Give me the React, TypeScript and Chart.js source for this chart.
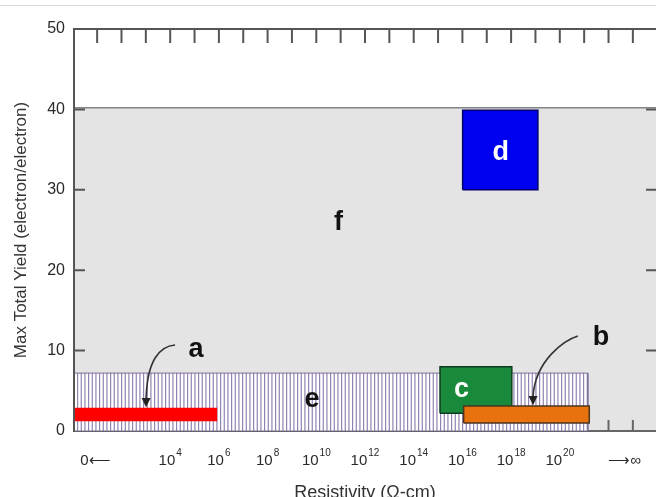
import React, { useEffect, useRef } from "react";
import { Chart, registerables } from "chart.js";

Chart.register(...registerables);

// ---- axis ranges (x is log10 of resistivity in Ω-cm) ----
const X_MIN = 0.05;
const X_MAX = 23.95;
const Y_MIN = 0;
const Y_MAX = 50;
const Y_STEP = 10;

// decade tick marks (top & bottom axes)
const decadeTicks = [1, 2, 3, 4, 5, 6, 7, 8, 9, 10, 11, 12, 13, 14, 15, 16, 17, 18, 19, 20, 21, 22, 23];
// y tick marks drawn inward
const yInnerTicks = [10, 20, 30, 40];

// bottom tick labels
const xLabelValues = [0.93, 4, 6, 8, 10, 12, 14, 16, 18, 20, 22.66];
const xLabelBases = ["0\u27F5", "10", "10", "10", "10", "10", "10", "10", "10", "10", "\u27F6\u221E"];
const xLabelExponents = ["", "4", "6", "8", "10", "12", "14", "16", "18", "20", ""];

// regions (rectangles): x in decades, y in electron/electron
const regionNames = ["f", "e", "a", "c", "b", "d"];
const regionXStart = [0.05, 0.05, 0.05, 15.08, 16.05, 16.01];
const regionXEnd = [23.95, 21.15, 5.94, 18.03, 21.21, 19.1];
const regionYLow = [0, 0, 1.2, 2.2, 1.0, 30.0];
const regionYHigh = [40.2, 7.2, 2.9, 8.0, 3.1, 39.9];

// region letter label anchors (text baseline)
const letterX = [10.91, 9.82, 5.06, 15.96, 21.69, 17.57];
const letterY = [25.0, 2.99, 9.2, 4.23, 10.7, 33.7];

// curved arrows (cubic: start, c1, c2, end) and tips
const arrowAPath = [[4.2, 10.7], [3.58, 10.57], [3.05, 8.83], [3.01, 3.98]];
const arrowATip = [3.01, 2.95];
const arrowBPath = [[20.74, 11.82], [20.21, 11.32], [18.98, 8.83], [18.9, 4.23]];
const arrowBTip = [18.9, 3.2];

// ---- styles ----
const FONT = '"Liberation Sans", Arial, Helvetica, sans-serif';
const regionFill = ["#e4e4e4", "HATCH", "#ff0000", "#198a3b", "#e8720d", "#0000f0"];
const regionBorder = ["#858585", "#7d6f9c", "#ff0000", "#0e3c1e", "#4a3520", "#00006a"];
const regionBorderWidth = [1.5, 1, 0, 1.5, 1.5, 1.5];
const letterColor = ["#111", "#111", "#111", "#ffffff", "#111", "#ffffff"];

function makeHatch(ctx: CanvasRenderingContext2D): CanvasPattern | string {
  const c = document.createElement("canvas");
  c.width = 11;
  c.height = 4;
  const g = c.getContext("2d");
  if (!g) return "#d8d0e4";
  g.fillStyle = "#ffffff";
  g.fillRect(0, 0, 11, 4);
  g.fillStyle = "#9383b0";
  [0, 3.67, 7.33].forEach((x) => g.fillRect(x, 0, 1.2, 4));
  return ctx.createPattern(c, "repeat") || "#d8d0e4";
}

const decorPlugin = {
  id: "decor",
  afterDatasetDraw(chart: any, args: any) {
    if (args.index !== 1) return;
    const { ctx, chartArea } = chart;
    const xs = chart.scales.x;
    ctx.save();
    ctx.strokeStyle = "#666";
    ctx.lineWidth = 2;
    ctx.beginPath();
    ctx.moveTo(chartArea.left, chartArea.bottom);
    ctx.lineTo(chartArea.right, chartArea.bottom);
    ctx.stroke();
    decadeTicks.forEach((d) => {
      const px = xs.getPixelForValue(d);
      ctx.beginPath();
      ctx.moveTo(px, chartArea.bottom);
      ctx.lineTo(px, chartArea.bottom - 11);
      ctx.stroke();
    });
    ctx.restore();
  },
  afterDatasetsDraw(chart: any) {
    const { ctx, chartArea } = chart;
    const xs = chart.scales.x;
    const ys = chart.scales.y;
    const P = (p: number[]) => [xs.getPixelForValue(p[0]), ys.getPixelForValue(p[1])];
    ctx.save();
    // axes frame
    ctx.strokeStyle = "#555";
    ctx.lineWidth = 2;
    ctx.beginPath();
    ctx.moveTo(chartArea.left, chartArea.bottom + 1);
    ctx.lineTo(chartArea.left, chartArea.top);
    ctx.lineTo(chartArea.right, chartArea.top);
    ctx.stroke();
    decadeTicks.forEach((d) => {
      const px = xs.getPixelForValue(d);
      ctx.beginPath();
      ctx.moveTo(px, chartArea.top);
      ctx.lineTo(px, chartArea.top + 14);
      ctx.stroke();
    });
    yInnerTicks.forEach((v) => {
      const py = ys.getPixelForValue(v);
      ctx.beginPath();
      ctx.moveTo(chartArea.left, py);
      ctx.lineTo(chartArea.left + 11, py);
      ctx.moveTo(chartArea.right, py);
      ctx.lineTo(chartArea.right - 10, py);
      ctx.stroke();
    });
    // arrows
    const drawArrow = (path: number[][], tip: number[]) => {
      const pts = path.map(P);
      const t = P(tip);
      ctx.strokeStyle = "#333";
      ctx.fillStyle = "#222";
      ctx.lineWidth = 1.6;
      ctx.beginPath();
      ctx.moveTo(pts[0][0], pts[0][1]);
      ctx.bezierCurveTo(pts[1][0], pts[1][1], pts[2][0], pts[2][1], pts[3][0], pts[3][1]);
      ctx.stroke();
      ctx.beginPath();
      ctx.moveTo(t[0], t[1]);
      ctx.lineTo(pts[3][0] - 4.5, pts[3][1] - 1);
      ctx.lineTo(pts[3][0] + 4.5, pts[3][1] - 1);
      ctx.closePath();
      ctx.fill();
    };
    drawArrow(arrowAPath, arrowATip);
    drawArrow(arrowBPath, arrowBTip);
    // region letters
    ctx.font = `bold 27px ${FONT}`;
    ctx.textAlign = "center";
    ctx.textBaseline = "alphabetic";
    regionNames.forEach((n, i) => {
      const [px, py] = P([letterX[i], letterY[i]]);
      ctx.fillStyle = letterColor[i];
      ctx.fillText(n, px, py);
    });
    // bottom tick labels with superscripts
    ctx.textAlign = "left";
    ctx.fillStyle = "#2a2a2a";
    const baseY = chartArea.bottom + 34;
    xLabelValues.forEach((v, i) => {
      const px = xs.getPixelForValue(v);
      ctx.font = `15px ${FONT}`;
      const wb = ctx.measureText(xLabelBases[i]).width;
      ctx.font = `10px ${FONT}`;
      const we = xLabelExponents[i] ? ctx.measureText(xLabelExponents[i]).width + 1 : 0;
      const start = px - (wb + we) / 2;
      ctx.font = `15px ${FONT}`;
      ctx.fillText(xLabelBases[i], start, baseY);
      if (xLabelExponents[i]) {
        ctx.font = `10px ${FONT}`;
        ctx.fillText(xLabelExponents[i], start + wb + 1, baseY - 9);
      }
    });
    ctx.restore();
  },
  afterDraw(chart: any) {
    const { ctx, width } = chart;
    ctx.save();
    ctx.strokeStyle = "#d6d6d6";
    ctx.lineWidth = 1;
    ctx.beginPath();
    ctx.moveTo(0, 5.5);
    ctx.lineTo(width, 5.5);
    ctx.stroke();
    ctx.restore();
  },
};

export default function App() {
  const ref = useRef<HTMLCanvasElement | null>(null);
  useEffect(() => {
    document.body.style.margin = "0";
    document.body.style.background = "#ffffff";
    const canvas = ref.current;
    if (!canvas) return;
    const ctx = canvas.getContext("2d");
    if (!ctx) return;
    const hatch = makeHatch(ctx);

    const datasets: any[] = [];
    regionNames.forEach((name, i) => {
      const x1 = regionXStart[i];
      const x2 = regionXEnd[i];
      const y1 = regionYLow[i];
      const y2 = regionYHigh[i];
      datasets.push({
        label: name + "-fill",
        data: [
          { x: x1, y: y2 },
          { x: x2, y: y2 },
        ],
        showLine: true,
        fill: { value: y1 },
        backgroundColor: regionFill[i] === "HATCH" ? hatch : regionFill[i],
        borderWidth: 0,
        borderColor: "rgba(0,0,0,0)",
        pointRadius: 0,
        tension: 0,
        order: 100 - i * 2,
      });
      const outline =
        name === "f"
          ? [
              { x: x1, y: y2 },
              { x: x2, y: y2 },
            ]
          : [
              { x: x1, y: y1 },
              { x: x1, y: y2 },
              { x: x2, y: y2 },
              { x: x2, y: y1 },
              { x: x1, y: y1 },
            ];
      datasets.push({
        label: name + "-edge",
        data: outline,
        showLine: true,
        fill: false,
        borderColor: regionBorder[i],
        borderWidth: regionBorderWidth[i],
        pointRadius: 0,
        tension: 0,
        order: 99 - i * 2,
      });
    });

    const chart = new Chart(canvas, {
      type: "scatter",
      data: { datasets },
      options: {
        responsive: false,
        animation: false,
        events: [],
        layout: { padding: { top: 29, left: 0, right: 0, bottom: 0 } },
        plugins: { legend: { display: false }, tooltip: { enabled: false } },
        scales: {
          x: {
            type: "linear",
            min: X_MIN,
            max: X_MAX,
            grid: { display: false, drawTicks: false },
            border: { display: false },
            ticks: { display: false },
            title: {
              display: true,
              text: "Resistivity (\u03A9-cm)",
              color: "#333",
              font: { family: FONT, size: 18, lineHeight: 1 },
              padding: { top: 0, bottom: -5 },
            },
            afterFit: (s: any) => {
              s.height = 66;
            },
          },
          y: {
            type: "linear",
            min: Y_MIN,
            max: Y_MAX,
            grid: { display: false, drawTicks: false },
            border: { display: false },
            ticks: {
              stepSize: Y_STEP,
              padding: 9,
              color: "#2a2a2a",
              font: { family: FONT, size: 16 },
            },
            title: {
              display: true,
              text: "Max Total Yield (electron/electron)",
              color: "#333",
              font: { family: FONT, size: 17, lineHeight: 1 },
              padding: { top: 12.5, bottom: 0 },
            },
            afterFit: (s: any) => {
              s.width = 74;
            },
          },
        },
      },
      plugins: [decorPlugin],
    } as any);
    return () => chart.destroy();
  }, []);

  return (
    <div style={{ width: 656, height: 497 }}>
      <canvas ref={ref} width={656} height={497} style={{ width: 656, height: 497, display: "block" }} />
    </div>
  );
}
